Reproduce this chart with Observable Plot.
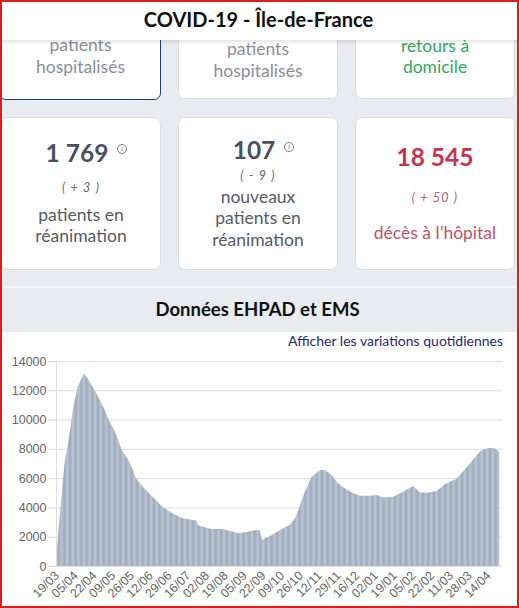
<!DOCTYPE html>
<html lang="fr">
<head>
<meta charset="utf-8">
<script src="https://cdn.jsdelivr.net/npm/d3@7"></script>
<script src="https://cdn.jsdelivr.net/npm/@observablehq/plot@0.6"></script>
<style>
  html, body { margin: 0; padding: 0; }
  body { width: 519px; height: 608px; position: relative; overflow: hidden; background: #e8ecf1; font-family: Lato, "Open Sans", sans-serif; }
  .card { position: absolute; background: #fff; border: 1px solid #dadde3; border-radius: 7px; box-sizing: border-box; }
  .line { position: absolute; text-align: center; line-height: 1; white-space: nowrap; }
  .info { position: absolute; width: 8px; height: 8px; border: 1px solid #7a7f88; border-radius: 50%; font: bold 6px/8px Lato, sans-serif; text-align: center; color: #7a7f88; }
  #header { position: absolute; left: 0; top: 0; width: 519px; height: 40px; background: #fff; box-shadow: 0 2px 4px rgba(0,0,0,0.12); z-index: 5; }
  #frame { position: absolute; left: 0; top: 0; width: 519px; height: 608px; box-sizing: border-box; border: 2px solid #d8201e; z-index: 10; pointer-events: none; }
  #panel { position: absolute; left: 0; top: 332px; width: 519px; height: 276px; background: #fff; }
  #chart { position: absolute; left: 0; top: 352px; }
</style>
</head>
<body>
<div id="header"></div>
<div id="panel"></div>
<div id="chart"></div>
<div id="frame"></div>
<script>
// ---- Chart data ----
const dates = ["2020-03-19","2020-03-22","2020-03-26","2020-03-31","2020-04-03","2020-04-07","2020-04-13","2020-04-18","2020-04-24","2020-05-01","2020-05-06","2020-05-11","2020-05-17","2020-05-24","2020-05-30","2020-06-05","2020-06-14","2020-06-23","2020-07-02","2020-07-11","2020-07-20","2020-07-24","2020-07-25","2020-07-29","2020-08-06","2020-08-16","2020-08-25","2020-08-31","2020-09-09","2020-09-16","2020-09-19","2020-09-21","2020-09-30","2020-10-09","2020-10-16","2020-10-21","2020-10-25","2020-10-30","2020-11-05","2020-11-13","2020-11-17","2020-11-23","2020-11-29","2020-12-05","2020-12-13","2020-12-19","2020-12-28","2021-01-03","2021-01-09","2021-01-18","2021-01-27","2021-02-05","2021-02-11","2021-02-17","2021-02-26","2021-03-07","2021-03-16","2021-03-26","2021-04-01","2021-04-07","2021-04-13","2021-04-19","2021-04-24"];
const values = [800,3480,6900,9170,10770,12250,13160,12590,11790,10770,9860,9170,7920,7120,5990,5420,4730,4050,3600,3260,3140,3100,2800,2690,2530,2530,2350,2230,2350,2460,2450,1780,2120,2530,2800,3260,4050,5080,6100,6560,6560,6220,5650,5310,4960,4800,4800,4850,4670,4730,5080,5460,5030,5010,5120,5650,5940,6780,7350,7850,8040,8080,7810];
const xTicks = ["2020-03-19","2020-04-05","2020-04-22","2020-05-09","2020-05-26","2020-06-12","2020-06-29","2020-07-16","2020-08-02","2020-08-19","2020-09-05","2020-09-22","2020-10-09","2020-10-26","2020-11-12","2020-11-29","2020-12-16","2021-01-02","2021-01-19","2021-02-05","2021-02-22","2021-03-11","2021-03-28","2021-04-14"];
const yTicks = [0,2000,4000,6000,8000,10000,12000,14000];

// ---- Page texts ----
function addText(txt, left, width, baseline, size, color, extra) {
  const d = document.createElement("div");
  d.className = "line";
  d.textContent = txt;
  d.style.left = left + "px";
  d.style.width = width + "px";
  d.style.fontSize = size + "px";
  d.style.top = (baseline - 0.887 * size) + "px";
  d.style.color = color;
  Object.assign(d.style, extra || {});
  document.body.appendChild(d);
  return d;
}
function addCard(left, top, width, height, border) {
  const c = document.createElement("div");
  c.className = "card";
  Object.assign(c.style, {left: left + "px", top: top + "px", width: width + "px", height: height + "px"});
  if (border) c.style.borderColor = border;
  document.body.appendChild(c);
}
function addInfo(cx, cy) {
  const i = document.createElement("div");
  i.className = "info";
  i.textContent = "i";
  i.style.left = (cx - 5) + "px";
  i.style.top = (cy - 5) + "px";
  document.body.appendChild(i);
}

// header
addText("COVID-19 - Île-de-France", 0, 517, 27, 20, "#111", {fontWeight: "700", zIndex: 6});

// row 1 (partially hidden)
addCard(-1, -60, 162, 160, "#1d3b7c");
addCard(178, -60, 160, 159);
addCard(355, -60, 160, 159);
addText("patients", 0, 161, 51.5, 17.5, "#8a8f99");
addText("hospitalisés", 0, 161, 73.3, 17.5, "#8a8f99");
addText("patients", 178, 160, 56, 17.5, "#8a8f99");
addText("hospitalisés", 178, 160, 77.3, 17.5, "#8a8f99");
addText("retours à", 355, 160, 52.3, 17.5, "#33a862");
addText("domicile", 355, 160, 73.3, 17.5, "#33a862");

// row 2
addCard(1, 117, 160, 153);
addCard(178, 117, 160, 153);
addCard(355, 117, 160, 153);

addText("1 769", 1, 152, 163, 24.5, "#4a515e", {fontWeight: "700"});
addInfo(122, 149);
addText("( + 3 )", 1, 160, 193, 12.5, "#666", {fontStyle: "italic", letterSpacing: "1.2px"});
addText("patients en", 1, 160, 221.5, 17.5, "#555b66");
addText("réanimation", 1, 160, 242.3, 17.5, "#555b66");

addText("107", 178, 152, 160, 24.5, "#4a515e", {fontWeight: "700"});
addInfo(289, 147);
addText("( - 9 )", 178, 160, 181, 12.5, "#666", {fontStyle: "italic", letterSpacing: "1.2px"});
addText("nouveaux", 178, 160, 203.3, 17.5, "#555b66");
addText("patients en", 178, 160, 225, 17.5, "#555b66");
addText("réanimation", 178, 160, 246.5, 17.5, "#555b66");

addText("18 545", 355, 160, 166.7, 24.5, "#c8324f", {fontWeight: "700"});
addText("( + 50 )", 355, 160, 203, 12.5, "#b0607a", {fontStyle: "italic", letterSpacing: "1.2px"});
addText("décès à l’hôpital", 355, 160, 239.3, 17.5, "#c4506a");

// divider + section title
const dv = document.createElement("div");
Object.assign(dv.style, {position: "absolute", left: "0px", top: "286px", width: "519px", height: "2px", background: "#f4f6f9"});
document.body.appendChild(dv);
addText("Données EHPAD et EMS", 0, 515, 316.7, 18.5, "#111", {fontWeight: "700"});
addText("Afficher les variations quotidiennes", 0, 503, 346.5, 14, "#26267a", {textAlign: "right", zIndex: 3});

// ---- Chart ----
const data = dates.map((d, i) => ({date: new Date(d), value: values[i]}));
const xStart = new Date("2020-03-18T12:00:00Z");
const xEnd = new Date("2021-04-26T12:00:00Z");

const svg = Plot.plot({
  width: 519,
  height: 256,
  marginLeft: 56,
  marginRight: 17,
  marginTop: 9,
  marginBottom: 42,
  style: {fontFamily: "'Liberation Sans', Arial, sans-serif", fontSize: "12px", color: "#666", background: "transparent", overflow: "visible"},
  x: {type: "utc", domain: [xStart, xEnd]},
  y: {domain: [0, 14000]},
  marks: [
    Plot.gridY(yTicks, {stroke: "#dedede", strokeOpacity: 1}),
    Plot.areaY(data, {x: "date", y: "value", fill: "url(#ehpadStripes)", curve: "linear"}),
    Plot.ruleX([xStart], {stroke: "#dedede"}),
    Plot.axisY(yTicks, {label: null, tickSize: 8, tickPadding: 2, tickFormat: d => String(d), stroke: "#d6d6d6", fill: "#666", fontSize: 12.5}),
    Plot.axisX(xTicks.map(d => new Date(d)), {label: null, tickFormat: d3.utcFormat("%d/%m"), tickRotate: -45, tickSize: 0, tickPadding: 7, fill: "#666", fontSize: 12.5})
  ]
});
const ns = "http://www.w3.org/2000/svg";
const defs = document.createElementNS(ns, "defs");
defs.innerHTML = '<linearGradient id="stripeGrad" x1="0" x2="1" y1="0" y2="0">' +
  '<stop offset="0" stop-color="#bdc6d3"/><stop offset="0.5" stop-color="#9ca9bb"/><stop offset="1" stop-color="#bdc6d3"/></linearGradient>' +
  '<pattern id="ehpadStripes" patternUnits="userSpaceOnUse" width="5.6" height="20">' +
  '<rect width="5.6" height="20" fill="url(#stripeGrad)"/></pattern>';
svg.insertBefore(defs, svg.firstChild);
document.getElementById("chart").appendChild(svg);
</script>
</body>
</html>
